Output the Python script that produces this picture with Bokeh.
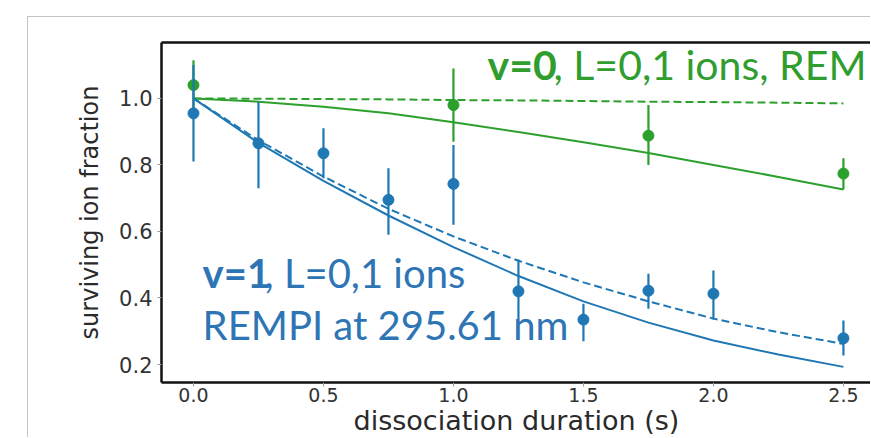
from bokeh.plotting import figure
from bokeh.models import ColumnDataSource, Range1d, FixedTicker, PrintfTickFormatter, LinearAxis, Label
from bokeh.embed import file_html
from bokeh.resources import INLINE

# ---- data ----
t_blue = [0.0, 0.25, 0.5, 0.75, 1.0, 1.25, 1.5, 1.75, 2.0, 2.5]
frac_blue = [0.955, 0.865, 0.835, 0.695, 0.743, 0.42, 0.335, 0.422, 0.413, 0.279]
lo_blue = [0.81, 0.73, 0.76, 0.59, 0.62, 0.33, 0.27, 0.368, 0.335, 0.227]
hi_blue = [1.10, 0.99, 0.91, 0.79, 0.86, 0.516, 0.383, 0.473, 0.483, 0.332]

t_green = [0.0, 1.0, 1.75, 2.5]
frac_green = [1.04, 0.98, 0.888, 0.774]
lo_green = [0.97, 0.87, 0.80, 0.726]
hi_green = [1.115, 1.09, 0.98, 0.82]

t_fit = [0.0, 0.25, 0.5, 0.75, 1.0, 1.25, 1.5, 1.75, 2.0, 2.25, 2.5]
blue_solid = [1.0, 0.866, 0.752, 0.648, 0.553, 0.466, 0.390, 0.326, 0.272, 0.230, 0.193]
blue_dashed = [1.0, 0.874, 0.765, 0.668, 0.585, 0.512, 0.447, 0.390, 0.338, 0.297, 0.262]
green_solid = [1.0, 0.99, 0.975, 0.955, 0.928, 0.899, 0.868, 0.836, 0.800, 0.764, 0.726]
green_dashed = [1.0, 0.999, 0.998, 0.997, 0.995, 0.994, 0.992, 0.990, 0.989, 0.987, 0.985]

x_ticks = [0.0, 0.5, 1.0, 1.5, 2.0, 2.5]
y_ticks = [0.2, 0.4, 0.6, 0.8, 1.0]

BLUE = "#1f77b4"
GREEN = "#2ca02c"
BLUE_TXT = "#2e75b6"
GREEN_TXT = "#2f9e2f"

p = figure(width=843, height=421,
           x_range=Range1d(-0.123, 2.608), y_range=Range1d(0.146, 1.168),
           output_backend="svg", toolbar_location=None,
           min_border_left=133, min_border_right=0, min_border_top=25, min_border_bottom=56,
           margin=(16, 0, 0, 27),
           background_fill_color="white", border_fill_color="white")
p.styles = {"border-top": "1px solid #c4c4c4", "border-left": "1px solid #c4c4c4"}
p.outline_line_color = None
p.grid.visible = False

for ax in (p.xaxis[0], p.yaxis[0]):
    ax.axis_line_width = 2.5
    ax.axis_line_color = "#111111"
    ax.major_tick_out = 4
    ax.major_tick_in = 0
    ax.major_tick_line_color = "#999999"
    ax.minor_tick_line_color = None
    ax.major_label_text_font = "DejaVu Sans"
    ax.major_label_text_color = "#333333"
    ax.axis_label_text_font = "DejaVu Sans"
    ax.axis_label_text_font_style = "normal"
    ax.axis_label_text_color = "#2a2a2a"
    ax.formatter = PrintfTickFormatter(format="%.1f")

p.xaxis.ticker = FixedTicker(ticks=x_ticks)
p.yaxis.ticker = FixedTicker(ticks=y_ticks)
p.xaxis.major_label_text_font_size = "19px"
p.yaxis.major_label_text_font_size = "21px"
p.xaxis.major_label_standoff = 1
p.yaxis.major_label_standoff = 5
p.xaxis.axis_label = "dissociation duration (s)"
p.yaxis.axis_label = "surviving ion fraction"
p.xaxis.axis_label_text_font_size = "27px"
p.yaxis.axis_label_text_font_size = "24px"
p.xaxis.axis_label_standoff = 0
p.yaxis.axis_label_standoff = 12

top = LinearAxis(ticker=FixedTicker(ticks=[]), axis_line_width=2.5, axis_line_color="#111111",
                 major_tick_out=0, major_tick_in=0, minor_tick_line_color=None,
                 major_label_text_font_size="0px")
p.add_layout(top, "above")

fit = ColumnDataSource(dict(t=t_fit, bs=blue_solid, bd=blue_dashed, gs=green_solid, gd=green_dashed))
p.line("t", "gd", source=fit, line_color=GREEN, line_width=2, line_dash="8 4")
p.line("t", "gs", source=fit, line_color=GREEN, line_width=2)
p.line("t", "bd", source=fit, line_color=BLUE, line_width=2, line_dash="8 4")
p.line("t", "bs", source=fit, line_color=BLUE, line_width=2)

bsrc = ColumnDataSource(dict(t=t_blue, y=frac_blue, lo=lo_blue, hi=hi_blue))
gsrc = ColumnDataSource(dict(t=t_green, y=frac_green, lo=lo_green, hi=hi_green))
p.segment(x0="t", y0="lo", x1="t", y1="hi", source=gsrc, line_color=GREEN, line_width=2.2)
p.scatter("t", "y", source=gsrc, size=11, fill_color=GREEN, line_color=GREEN)
p.segment(x0="t", y0="lo", x1="t", y1="hi", source=bsrc, line_color=BLUE, line_width=2.2)
p.scatter("t", "y", source=bsrc, size=11, fill_color=BLUE, line_color=BLUE)

common = dict(text_font="Lato", text_baseline="alphabetic", text_align="left")
p.add_layout(Label(x=1.131, y=1.102, text="v=0", text_font_style="bold", text_font_size="41px",
                   text_color=GREEN_TXT, **common))
p.add_layout(Label(x=1.131, y=1.102, x_offset=66, text=", L=0,1 ions, REM", text_font_size="41px",
                   text_color=GREEN_TXT, **common))
p.add_layout(Label(x=0.035, y=0.476, text="v=1", text_font_style="bold", text_font_size="40px",
                   text_color=BLUE_TXT, **common))
p.add_layout(Label(x=0.035, y=0.476, x_offset=62, text=", L=0,1 ions", text_font_size="40px",
                   text_color=BLUE_TXT, **common))
p.add_layout(Label(x=0.035, y=0.32, text="REMPI at 295.61 nm", text_font_size="40px",
                   text_color=BLUE_TXT, **common))

open("out.html", "w").write(file_html(p, INLINE))
